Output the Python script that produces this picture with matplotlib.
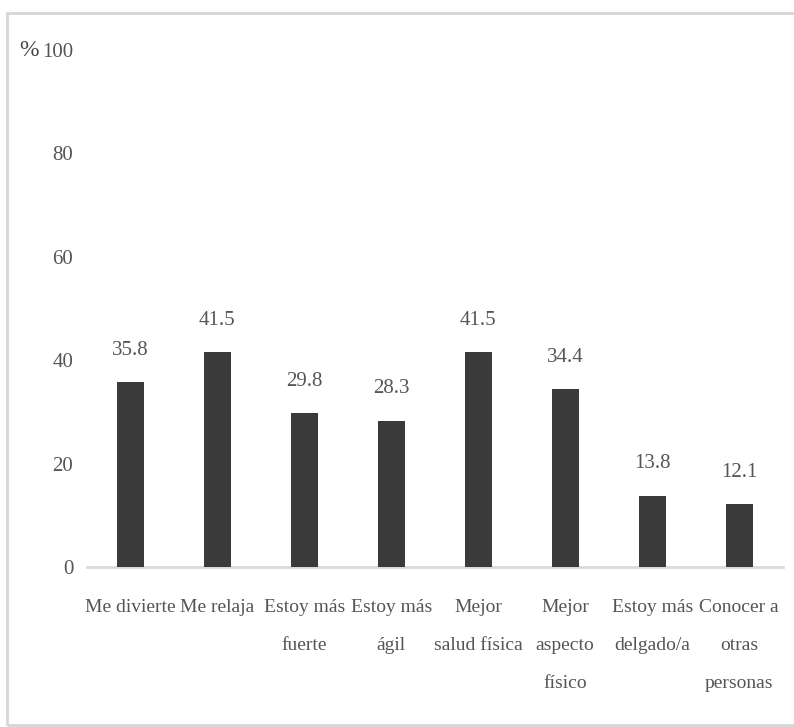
import matplotlib
matplotlib.use("Agg")
import matplotlib.pyplot as plt
from matplotlib.patches import Rectangle

plt.rcParams['font.family'] = ['Liberation Serif', 'DejaVu Serif']

# motivos y porcentajes
categorias = ["Me divierte", "Me relaja", "Estoy más\nfuerte", "Estoy más\nágil",
              "Mejor\nsalud física", "Mejor\naspecto\nfísico", "Estoy más\ndelgado/a",
              "Conocer a\notras\npersonas"]
porcentajes = [35.8, 41.5, 29.8, 28.3, 41.5, 34.4, 13.8, 12.1]
ticks_y = [0, 20, 40, 60, 80, 100]

gris_texto = "#555555"

fig = plt.figure(figsize=(7.94, 7.27), dpi=100)
ax = fig.add_axes([0.1096, 0.22, 0.876, 0.7112])

x = range(len(categorias))
barras = ax.bar(x, porcentajes, width=0.31, color="#3a3a3a", zorder=3)

for xi, v in zip(x, porcentajes):
    ax.annotate(f"{v:.1f}", (xi, v), xytext=(0, 23), textcoords="offset points",
                ha="center", va="center", fontsize=15, color=gris_texto)

ax.set_xlim(-0.5, len(categorias) - 0.5)
ax.set_ylim(0, 100)
ax.set_yticks(ticks_y)
ax.set_yticklabels([str(t) for t in ticks_y], fontsize=15, color=gris_texto)
ax.set_xticks(list(x))
ax.set_xticklabels(categorias, fontsize=14, color=gris_texto, linespacing=2.6, va="top")
ax.tick_params(axis="both", length=0)
ax.tick_params(axis="y", pad=10)
ax.tick_params(axis="x", pad=23)

for lado in ["top", "right", "left"]:
    ax.spines[lado].set_visible(False)
ax.spines["bottom"].set_color("#d9d9d9")
ax.spines["bottom"].set_linewidth(2)

# signo de porcentaje junto al 100
fig.text(0.024, 0.931, "%", fontsize=17, color="#444444", ha="left", va="center")

# marco exterior del gráfico
fig.patches.append(Rectangle((0.009, 0.003), 1.05, 0.979, transform=fig.transFigure,
                             fill=False, edgecolor="#d6d6d6", linewidth=2))

fig.savefig("out.png", dpi=100)
